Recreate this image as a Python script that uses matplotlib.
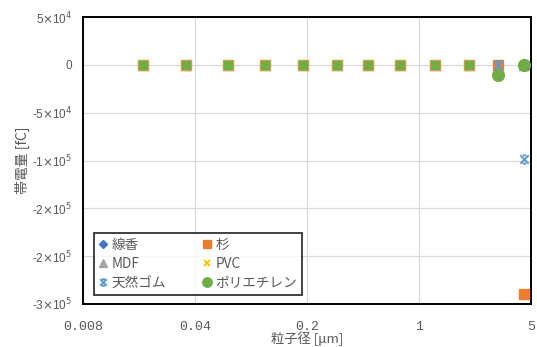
import numpy as np
import matplotlib
matplotlib.use('Agg')
from matplotlib import pyplot as plt
from matplotlib.path import Path
from matplotlib.ticker import FixedLocator, FixedFormatter, NullLocator

plt.rcParams['font.family'] = ['Noto Sans CJK JP', 'DejaVu Sans']

# ---------------- data ----------------
size_um = [0.019, 0.035, 0.064, 0.11, 0.19, 0.31, 0.48, 0.76, 1.26, 2.06, 3.1, 4.55]
nan = np.nan
senko = [0, 0, 0, 0, 0, 0, 0, 0, 0, 0, 0, 0]
sugi = [0, 0, 0, 0, 0, 0, 0, 0, 0, 0, 0, -2.4e5]
mdf = [0, 0, 0, 0, 0, 0, 0, 0, 0, 0, 0, 0]
pvc = [0, 0, 0, 0, 0, 0, 0, 0, 0, 0, 0, 0]
gomu = [0, 0, 0, 0, 0, 0, 0, 0, 0, 0, 0, -9.8e4]
pe = [nan, nan, nan, nan, nan, nan, nan, nan, nan, nan, -1.06e4, 0]
pe_sq = [0, 0, 0, 0, 0, 0, 0, 0, 0, 0, nan, nan]   # green squares (no legend entry)

x_ticks = [0.008, 0.04, 0.2, 1, 5]
x_labels = ['0.008', '0.04', '0.2', '1', '5']
y_ticks = [5e4, 0, -5e4, -1e5, -1.5e5, -2e5, -2.5e5]
y_labels = [r'5$\times$10$^{4}$', '0', r'-5$\times$10$^{4}$', r'-1$\times$10$^{5}$',
            r'-2$\times$10$^{5}$', r'-2$\times$10$^{5}$', r'-3$\times$10$^{5}$']

# Excel style star marker (X with small caps)
star = Path([(-1, -1), (1, 1), (-1, 1), (1, -1), (-0.45, 1), (0.45, 1), (-0.45, -1), (0.45, -1)],
            [Path.MOVETO, Path.LINETO] * 4)

fig = plt.figure(figsize=(5.37, 3.47), dpi=100)
ax = fig.add_axes([83 / 537, 1 - 304 / 347, 448 / 537, 287 / 347])

ax.plot(size_um, senko, ls='none', marker='D', ms=5.5, color='#4472C4', label='線香', zorder=3)
ax.plot(size_um, mdf, ls='none', marker='^', ms=6.5, color='#A5A5A5', label='MDF', zorder=3)
ax.plot(size_um, pvc, ls='none', marker='x', ms=6, mew=1.3, color='#FFC000', label='PVC', zorder=3)
ax.plot(size_um, sugi, ls='none', marker='s', ms=7, color='#ED7D31', label='杉', zorder=4)
ax.plot(size_um, gomu, ls='none', marker=star, ms=6, mew=1.4, color='#5B9BD5', label='天然ゴム', zorder=5)
ax.plot(size_um, pe, ls='none', marker='o', ms=8.5, color='#70AD47', label='ポリエチレン', zorder=6)
ax.plot(size_um, pe_sq, ls='none', marker='s', ms=7.5, mfc='#70AD47', mec='#D9A441', mew=0.6, zorder=6)

ax.set_xscale('log')
ax.set_xlim(0.008, 5)
ax.set_ylim(-2.5e5, 5e4)
ax.xaxis.set_major_locator(FixedLocator(x_ticks))
ax.xaxis.set_major_formatter(FixedFormatter(x_labels))
ax.xaxis.set_minor_locator(NullLocator())
ax.yaxis.set_major_locator(FixedLocator(y_ticks))
ax.yaxis.set_major_formatter(FixedFormatter(y_labels))

ax.grid(True, color='#D9D9D9', lw=0.9, zorder=0)
ax.set_axisbelow(True)
ax.tick_params(axis='x', length=0, pad=12, colors='#595959')
ax.tick_params(axis='y', length=0, pad=8, colors='#595959')
for lab in ax.get_xticklabels():
    lab.set_family('Liberation Mono')
    lab.set_fontsize(9.5)
for lab in ax.get_yticklabels():
    lab.set_family('Liberation Sans')
    lab.set_fontsize(8.5)
for s in ax.spines.values():
    s.set_color('black')
    s.set_linewidth(1.4)

ax.set_xlabel('粒子径 [μm]', fontsize=9.5, color='#595959', labelpad=-1)
ax.set_ylabel('帯電量 [fC]', fontsize=10, color='#595959', labelpad=1)

# legend order as in the picture
h, l = ax.get_legend_handles_labels()
order = [0, 1, 4, 3, 2, 5]   # 線香, MDF, 天然ゴム, 杉, PVC, ポリエチレン
leg = ax.legend([h[i] for i in order], [l[i] for i in order], ncol=2,
                loc='lower left', bbox_to_anchor=(0.024, 0.033), fontsize=9.8,
                frameon=True, fancybox=False, edgecolor='black', handlelength=0.7,
                handletextpad=0.25, columnspacing=2.7, borderpad=0.35, labelspacing=0.35,
                labelcolor='#595959', markerscale=0.8, borderaxespad=0)
leg.get_frame().set_linewidth(1.3)

fig.savefig('out.png', dpi=100)
